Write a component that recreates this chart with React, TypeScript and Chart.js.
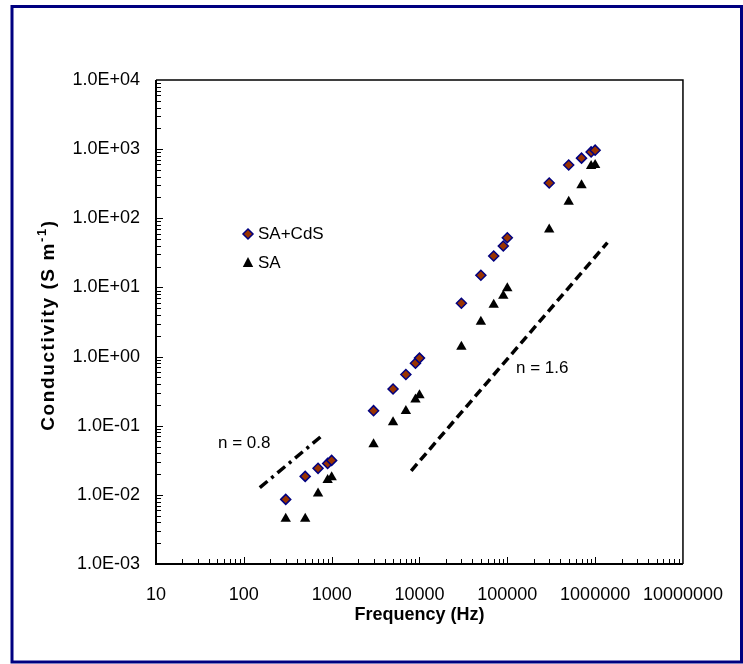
import React, { useEffect, useRef } from 'react';
import { Chart, registerables } from 'chart.js';

Chart.register(...registerables);

const FONT = '"Liberation Sans", Arial, sans-serif';

// ---- Data ----
const seriesLabels = ['SA+CdS', 'SA'];

const freqSACdS = [300, 500, 700, 900, 1000, 3000, 5000, 7000, 9000, 10000, 30000, 50000, 70000, 90000, 100000, 300000, 500000, 700000, 900000, 1000000];
const condSACdS = [0.0086, 0.0185, 0.0242, 0.0285, 0.0315, 0.165, 0.34, 0.55, 0.8, 0.95, 5.9, 15, 28.5, 39.7, 52.4, 324, 590, 741, 912, 966];

const freqSA = [300, 500, 700, 900, 1000, 3000, 5000, 7000, 9000, 10000, 30000, 50000, 70000, 90000, 100000, 300000, 500000, 700000, 900000, 1000000];
const condSA = [0.0045, 0.0045, 0.0105, 0.0164, 0.0179, 0.054, 0.112, 0.163, 0.24, 0.275, 1.39, 3.2, 5.6, 7.6, 9.7, 69, 173, 301, 570, 590];

// guide lines (slopes)
const slopeLowFreq = [152, 818];
const slopeLowCond = [0.0127, 0.0759];
const slopeHighFreq = [8050, 1380000];
const slopeHighCond = [0.0223, 44.4];

const slopeLowLabel = 'n = 0.8';
const slopeHighLabel = 'n = 1.6';

const xTickValues = [10, 100, 1000, 10000, 100000, 1000000, 10000000];
const yTickValues = [1e-3, 1e-2, 1e-1, 1e0, 1e1, 1e2, 1e3, 1e4];

const xTitle = 'Frequency (Hz)';
const yTitleMain = 'Conductivity (S m';
const yTitleSup = '-1';
const yTitleEnd = ')';

const DIAMOND_FILL = '#993300';
const DIAMOND_BORDER = '#000080';
const FRAME_COLOR = '#000080';

function fmtY(v: number): string {
  const e = Math.round(Math.log10(v));
  return '1.0E' + (e < 0 ? '-' : '+') + String(Math.abs(e)).padStart(2, '0');
}

function spacedWidth(ctx: CanvasRenderingContext2D, s: string, sp: number) {
  let w = 0;
  for (const ch of s) w += ctx.measureText(ch).width + sp;
  return w;
}
function drawSpaced(ctx: CanvasRenderingContext2D, s: string, x: number, y: number, sp: number) {
  let cx = x;
  for (const ch of s) {
    ctx.fillText(ch, cx, y);
    cx += ctx.measureText(ch).width + sp;
  }
  return cx;
}

const decorPlugin = {
  id: 'decor',
  beforeDraw(chart: any) {
    const ctx = chart.ctx;
    ctx.save();
    ctx.fillStyle = '#ffffff';
    ctx.fillRect(0, 0, chart.width, chart.height);
    ctx.strokeStyle = FRAME_COLOR;
    ctx.lineWidth = 3;
    ctx.strokeRect(12, 6.5, 729.5, 655.5);
    ctx.restore();
  },
  beforeDatasetsDraw(chart: any) {
    const ctx = chart.ctx;
    const { left, right, top, bottom } = chart.chartArea;
    const xs = chart.scales.x;
    const ys = chart.scales.y;
    ctx.save();
    ctx.strokeStyle = '#000';
    ctx.lineWidth = 1.5;
    ctx.beginPath();
    ctx.moveTo(left, top);
    ctx.lineTo(right, top);
    ctx.lineTo(right, bottom);
    ctx.stroke();
    ctx.lineWidth = 1;
    ctx.beginPath();
    for (let e = -3; e < 4; e++) {
      for (let m = 1; m <= 9; m++) {
        const v = m * Math.pow(10, e);
        const y = Math.round(ys.getPixelForValue(v)) + 0.5;
        const len = m === 1 ? 7 : 5;
        ctx.moveTo(left, y);
        ctx.lineTo(left + len, y);
      }
    }
    for (let e = 1; e < 7; e++) {
      for (let m = 1; m <= 9; m++) {
        const v = m * Math.pow(10, e);
        const x = Math.round(xs.getPixelForValue(v)) + 0.5;
        const len = m === 1 ? 7 : 5;
        ctx.moveTo(x, bottom);
        ctx.lineTo(x, bottom - len);
      }
    }
    ctx.stroke();
    ctx.lineWidth = 2;
    ctx.beginPath();
    ctx.moveTo(left, top);
    ctx.lineTo(left, bottom);
    ctx.lineTo(right, bottom);
    ctx.stroke();
    ctx.restore();
  },
  afterDraw(chart: any) {
    const ctx = chart.ctx;
    const { left, right, top, bottom } = chart.chartArea;
    ctx.save();
    ctx.fillStyle = '#000';
    // x title
    ctx.font = 'bold 18px ' + FONT;
    ctx.textAlign = 'center';
    ctx.textBaseline = 'middle';
    ctx.fillText(xTitle, (left + right) / 2, 615);
    // y title with superscript
    ctx.save();
    ctx.translate(49, (top + bottom) / 2 + 3);
    ctx.rotate(-Math.PI / 2);
    ctx.textAlign = 'left';
    const sp = 1.6;
    const supFont = 'bold 13px ' + FONT;
    const mainFont = 'bold 19px ' + FONT;
    ctx.font = mainFont;
    const w1 = spacedWidth(ctx, yTitleMain, sp);
    const w3 = spacedWidth(ctx, yTitleEnd, sp);
    ctx.font = supFont;
    const w2 = spacedWidth(ctx, yTitleSup, sp);
    const x0 = -(w1 + w2 + w3) / 2;
    ctx.font = mainFont;
    drawSpaced(ctx, yTitleMain, x0, 0, sp);
    ctx.font = supFont;
    drawSpaced(ctx, yTitleSup, x0 + w1, -7, sp);
    ctx.font = mainFont;
    drawSpaced(ctx, yTitleEnd, x0 + w1 + w2, 0, sp);
    ctx.restore();

    // legend
    ctx.font = '17px ' + FONT;
    ctx.textAlign = 'left';
    ctx.textBaseline = 'middle';
    const lx = 248;
    const ly1 = 234;
    const ly2 = 263;
    ctx.beginPath();
    ctx.moveTo(lx, ly1 - 5);
    ctx.lineTo(lx + 5, ly1);
    ctx.lineTo(lx, ly1 + 5);
    ctx.lineTo(lx - 5, ly1);
    ctx.closePath();
    ctx.fillStyle = DIAMOND_FILL;
    ctx.fill();
    ctx.strokeStyle = DIAMOND_BORDER;
    ctx.lineWidth = 1.5;
    ctx.stroke();
    ctx.beginPath();
    ctx.moveTo(lx, ly2 - 6);
    ctx.lineTo(lx + 5.2, ly2 + 4);
    ctx.lineTo(lx - 5.2, ly2 + 4);
    ctx.closePath();
    ctx.fillStyle = '#000';
    ctx.fill();
    ctx.fillText(seriesLabels[0], 258, ly1);
    ctx.fillText(seriesLabels[1], 258, ly2);

    ctx.fillText(slopeLowLabel, 218, 443);
    ctx.fillText(slopeHighLabel, 516, 368);
    ctx.restore();
  },
};

export default function App() {
  const ref = useRef<HTMLCanvasElement | null>(null);
  useEffect(() => {
    document.body.style.margin = '0';
    const canvas = ref.current;
    if (!canvas) return;
    const toXY = (xs: number[], ys: number[]) => xs.map((x, i) => ({ x, y: ys[i] }));
    const chart = new Chart(canvas, {
      type: 'scatter',
      data: {
        datasets: [
          {
            label: seriesLabels[0],
            data: toXY(freqSACdS, condSACdS),
            pointStyle: 'rectRot',
            pointRadius: 5,
            pointBackgroundColor: DIAMOND_FILL,
            pointBorderColor: DIAMOND_BORDER,
            pointBorderWidth: 1.5,
            showLine: false,
            order: 1,
          },
          {
            label: seriesLabels[1],
            data: toXY(freqSA, condSA),
            pointStyle: 'triangle',
            pointRadius: 6,
            pointBackgroundColor: '#000',
            pointBorderColor: '#000',
            pointBorderWidth: 0,
            showLine: false,
            order: 2,
          },
          {
            label: slopeLowLabel,
            data: toXY(slopeLowFreq, slopeLowCond),
            showLine: true,
            borderColor: '#000',
            borderWidth: 3.5,
            borderDash: [10, 5, 3, 5],
            pointRadius: 0,
            fill: false,
            order: 3,
          },
          {
            label: slopeHighLabel,
            data: toXY(slopeHighFreq, slopeHighCond),
            showLine: true,
            borderColor: '#000',
            borderWidth: 3.5,
            borderDash: [9, 5],
            pointRadius: 0,
            fill: false,
            order: 3,
          },
        ],
      },
      options: {
        responsive: false,
        animation: false,
        devicePixelRatio: 1,
        layout: { padding: { top: 80, right: 59, left: 0, bottom: 0 } },
        plugins: {
          legend: { display: false },
          tooltip: { enabled: false },
          title: { display: false },
        },
        scales: {
          x: {
            type: 'logarithmic',
            position: 'bottom',
            min: 10,
            max: 10000000,
            grid: { display: false, drawTicks: false },
            border: { display: false },
            ticks: {
              color: '#000',
              font: { family: FONT, size: 18 },
              padding: 20,
              maxRotation: 0,
              autoSkip: false,
              callback: (v: any) => String(v),
            },
            afterBuildTicks: (s: any) => {
              s.ticks = xTickValues.map((v) => ({ value: v }));
            },
            afterFit: (s: any) => {
              s.height = 100;
            },
          },
          y: {
            type: 'logarithmic',
            position: 'left',
            min: 0.001,
            max: 10000,
            grid: { display: false, drawTicks: false },
            border: { display: false },
            ticks: {
              color: '#000',
              font: { family: FONT, size: 18 },
              padding: 16,
              autoSkip: false,
              callback: (v: any) => fmtY(Number(v)),
            },
            afterBuildTicks: (s: any) => {
              s.ticks = yTickValues.map((v) => ({ value: v }));
            },
            afterFit: (s: any) => {
              s.width = 156;
            },
          },
        },
      },
      plugins: [decorPlugin],
    });
    return () => chart.destroy();
  }, []);
  return (
    <div style={{ width: 743, height: 664 }}>
      <canvas ref={ref} width={743} height={664} style={{ display: 'block' }} />
    </div>
  );
}
